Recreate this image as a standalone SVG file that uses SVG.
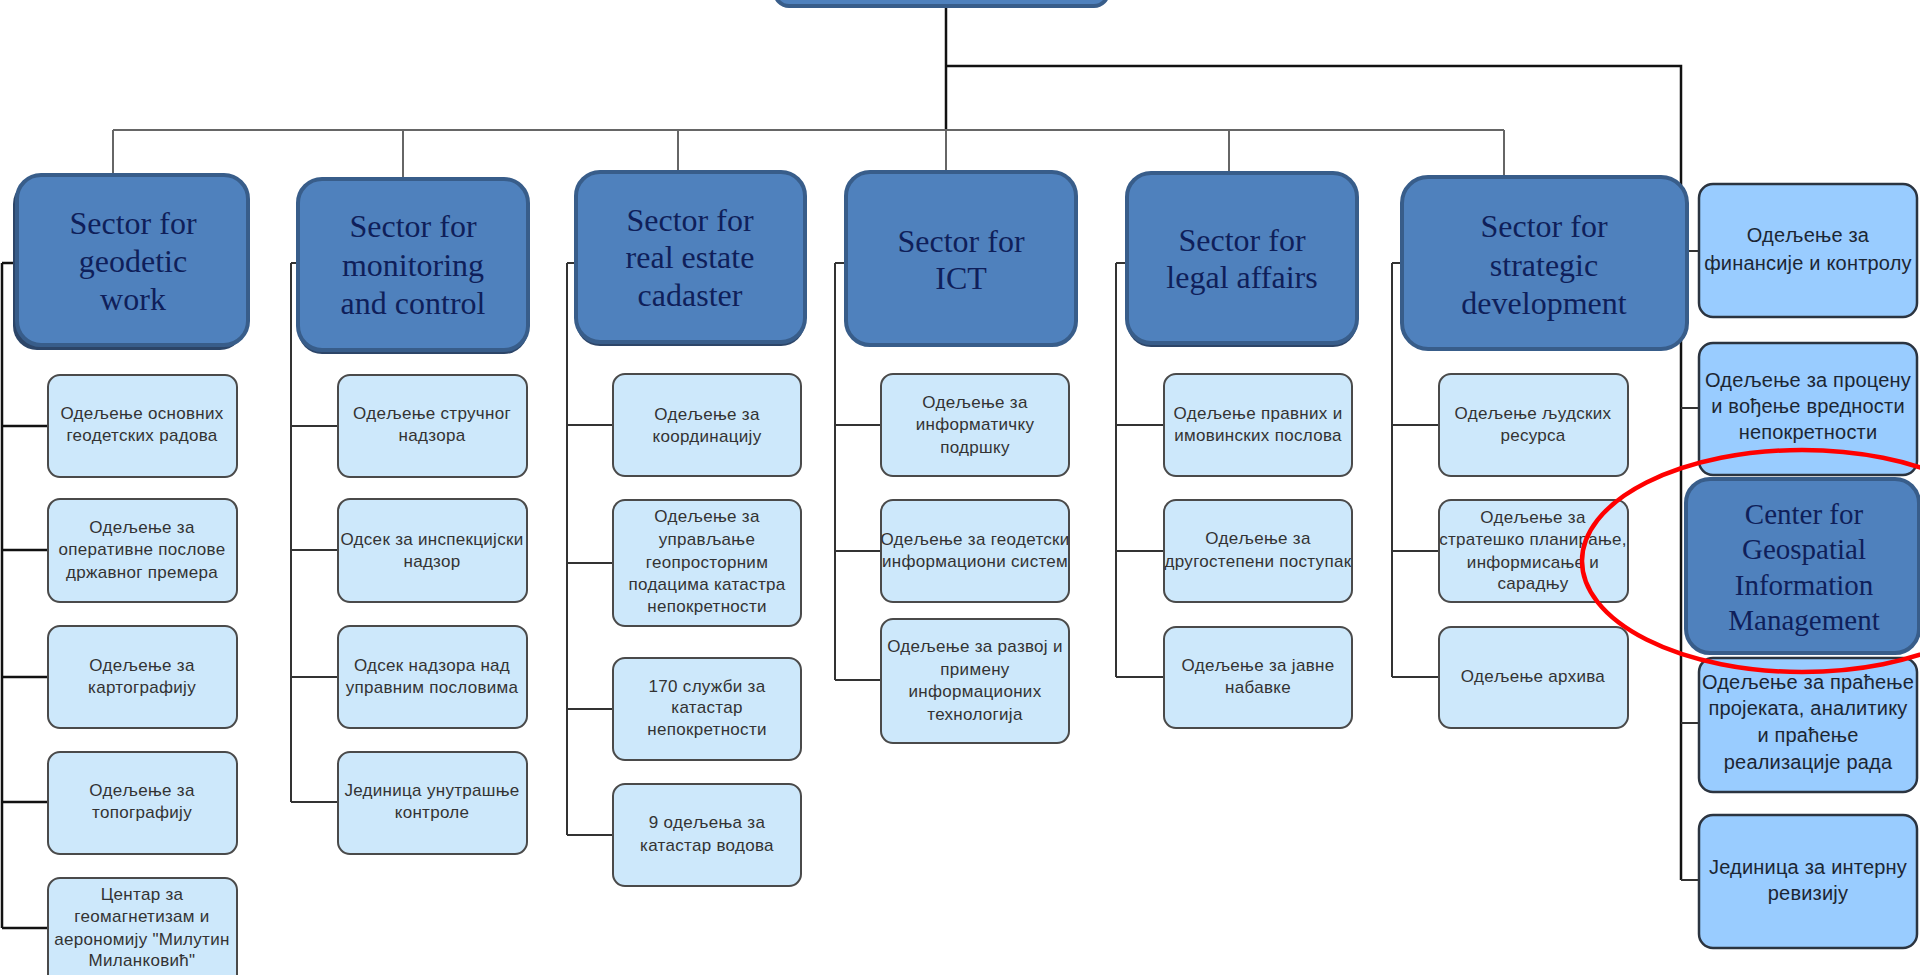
<svg xmlns="http://www.w3.org/2000/svg" width="1920" height="975" viewBox="0 0 1920 975">
<style>
.sec{fill:#4f81bd;stroke:#385d8a;stroke-width:4}
.sh{fill:#2c4568}
.st{font-family:"Liberation Serif","Times New Roman",serif;font-size:32px;fill:#0f1f5a;text-anchor:middle}
.ct{font-family:"Liberation Serif","Times New Roman",serif;font-size:29px;fill:#0f1f5a;text-anchor:middle}
.lb{fill:#cde8fb;stroke:#4a4a4a;stroke-width:2}
.lt{font-family:"Liberation Sans",Arial,sans-serif;font-size:17px;letter-spacing:0.3px;fill:#333;text-anchor:middle}
.rb{fill:#99ccff;stroke:#2b3440;stroke-width:2.5}
.rt{font-family:"Liberation Sans",Arial,sans-serif;font-size:20px;letter-spacing:0.2px;fill:#1c2633;text-anchor:middle}
.c1{stroke:#111;stroke-width:2.5;fill:none}
.c2{stroke:#666;stroke-width:2;fill:none}
.c3{stroke:#333;stroke-width:2;fill:none}
</style>
<rect width="1920" height="975" fill="#fff"/>
<g id="connectors">
<path class="c1" d="M946 6V130M946 66H1681V880"/>
<path class="c2" d="M113 130H1504M113 130V175M403 130V179M678 130V172M946 130V172M1229 130V173M1504 130V177"/>
<path class="c3" d="M1681 251H1699M1681 408H1699M1681 723H1699M1681 880H1699"/>
<path class="c1" d="M2 263H17M2 263V928M2 426H48M2 550H48M2 677H48M2 802H48M2 928H48"/>
<path class="c3" d="M291 263H298M291 263V802M291 426H338M291 550H338M291 677H338M291 802H338"/>
<path class="c3" d="M567 263H576M567 263V835M567 425H613M567 563H613M567 709H613M567 835H613"/>
<path class="c3" d="M835 263H846M835 263V680M835 425H881M835 551H881M835 680H895"/>
<path class="c3" d="M1116 263H1127M1116 263V677M1116 425H1164M1116 551H1164M1116 677H1164"/>
<path class="c3" d="M1392 263H1402M1392 263V677M1392 425H1439M1392 551H1439M1392 677H1439"/>
</g>
<g id="top"><rect class="sec" x="775" y="-40" width="333" height="46" rx="14"/></g>
<g id="s1"><rect class="sh" x="13" y="180" width="231" height="170" rx="24"/><rect class="sec" x="17" y="175" width="231" height="170" rx="24"/>
<text class="st" x="133" y="234">Sector for</text><text class="st" x="133" y="272">geodetic</text><text class="st" x="133" y="310">work</text></g>
<g id="s2"><rect class="sh" x="298" y="183" width="230" height="171" rx="24"/><rect class="sec" x="298" y="179" width="230" height="171" rx="24"/>
<text class="st" x="413" y="237">Sector for</text><text class="st" x="413" y="276">monitoring</text><text class="st" x="413" y="314">and control</text></g>
<g id="s3"><rect class="sh" x="576" y="176" width="229" height="170" rx="24"/><rect class="sec" x="576" y="172" width="229" height="170" rx="24"/>
<text class="st" x="690" y="231">Sector for</text><text class="st" x="690" y="268">real estate</text><text class="st" x="690" y="306">cadaster</text></g>
<g id="s4"><rect class="sec" x="846" y="172" width="230" height="173" rx="24"/>
<text class="st" x="961" y="252">Sector for</text><text class="st" x="961" y="289">ICT</text></g>
<g id="s5"><rect class="sh" x="1127" y="177" width="230" height="170" rx="24"/><rect class="sec" x="1127" y="173" width="230" height="170" rx="24"/>
<text class="st" x="1242" y="251">Sector for</text><text class="st" x="1242" y="288">legal affairs</text></g>
<g id="s6"><rect class="sec" x="1402" y="177" width="285" height="172" rx="26"/>
<text class="st" x="1544" y="237">Sector for</text><text class="st" x="1544" y="276">strategic</text><text class="st" x="1544" y="314">development</text></g>
<g id="s1c1"><rect class="lb" x="48" y="375" width="189" height="102" rx="12"/><text class="lt" x="142" y="419">Одељење основних</text><text class="lt" x="142" y="441">геодетских радова</text></g>
<g id="s1c2"><rect class="lb" x="48" y="499" width="189" height="103" rx="12"/><text class="lt" x="142" y="533">Одељење за</text><text class="lt" x="142" y="555">оперативне послове</text><text class="lt" x="142" y="578">државног премера</text></g>
<g id="s1c3"><rect class="lb" x="48" y="626" width="189" height="102" rx="12"/><text class="lt" x="142" y="671">Одељење за</text><text class="lt" x="142" y="693">картографију</text></g>
<g id="s1c4"><rect class="lb" x="48" y="752" width="189" height="102" rx="12"/><text class="lt" x="142" y="796">Одељење за</text><text class="lt" x="142" y="818">топографију</text></g>
<g id="s1c5"><rect class="lb" x="48" y="878" width="189" height="110" rx="12"/><text class="lt" x="142" y="900">Центар за</text><text class="lt" x="142" y="922">геомагнетизам и</text><text class="lt" x="142" y="945">аерономију "Милутин</text><text class="lt" x="142" y="966">Миланковић"</text></g>
<g id="s2c1"><rect class="lb" x="338" y="375" width="189" height="102" rx="12"/><text class="lt" x="432" y="419">Одељење стручног</text><text class="lt" x="432" y="441">надзора</text></g>
<g id="s2c2"><rect class="lb" x="338" y="499" width="189" height="103" rx="12"/><text class="lt" x="432" y="545">Одсек за инспекцијски</text><text class="lt" x="432" y="567">надзор</text></g>
<g id="s2c3"><rect class="lb" x="338" y="626" width="189" height="102" rx="12"/><text class="lt" x="432" y="671">Одсек надзора над</text><text class="lt" x="432" y="693">управним пословима</text></g>
<g id="s2c4"><rect class="lb" x="338" y="752" width="189" height="102" rx="12"/><text class="lt" x="432" y="796">Јединица унутрашње</text><text class="lt" x="432" y="818">контроле</text></g>
<g id="s3c1"><rect class="lb" x="613" y="374" width="188" height="102" rx="12"/><text class="lt" x="707" y="420">Одељење за</text><text class="lt" x="707" y="442">координацију</text></g>
<g id="s3c2"><rect class="lb" x="613" y="500" width="188" height="126" rx="12"/><text class="lt" x="707" y="522">Одељење за</text><text class="lt" x="707" y="545">управљање</text><text class="lt" x="707" y="568">геопросторним</text><text class="lt" x="707" y="590">подацима катастра</text><text class="lt" x="707" y="612">непокретности</text></g>
<g id="s3c3"><rect class="lb" x="613" y="658" width="188" height="102" rx="12"/><text class="lt" x="707" y="692">170 служби за</text><text class="lt" x="707" y="713">катастар</text><text class="lt" x="707" y="735">непокретности</text></g>
<g id="s3c4"><rect class="lb" x="613" y="784" width="188" height="102" rx="12"/><text class="lt" x="707" y="828">9 одељења за</text><text class="lt" x="707" y="851">катастар водова</text></g>
<g id="s4c1"><rect class="lb" x="881" y="374" width="188" height="102" rx="12"/><text class="lt" x="975" y="408">Одељење за</text><text class="lt" x="975" y="430">информатичку</text><text class="lt" x="975" y="453">подршку</text></g>
<g id="s4c2"><rect class="lb" x="881" y="500" width="188" height="102" rx="12"/><text class="lt" x="975" y="545">Одељење за геодетски</text><text class="lt" x="975" y="567">информациони систем</text></g>
<g id="s4c3"><rect class="lb" x="881" y="619" width="188" height="124" rx="12"/><text class="lt" x="975" y="652">Одељење за развој и</text><text class="lt" x="975" y="675">примену</text><text class="lt" x="975" y="697">информационих</text><text class="lt" x="975" y="720">технологија</text></g>
<g id="s5c1"><rect class="lb" x="1164" y="374" width="188" height="102" rx="12"/><text class="lt" x="1258" y="419">Одељење правних и</text><text class="lt" x="1258" y="441">имовинских послова</text></g>
<g id="s5c2"><rect class="lb" x="1164" y="500" width="188" height="102" rx="12"/><text class="lt" x="1258" y="544">Одељење за</text><text class="lt" x="1258" y="567">другостепени поступак</text></g>
<g id="s5c3"><rect class="lb" x="1164" y="627" width="188" height="101" rx="12"/><text class="lt" x="1258" y="671">Одељење за јавне</text><text class="lt" x="1258" y="693">набавке</text></g>
<g id="s6c1"><rect class="lb" x="1439" y="374" width="189" height="102" rx="12"/><text class="lt" x="1533" y="419">Одељење људских</text><text class="lt" x="1533" y="441">ресурса</text></g>
<g id="s6c2"><rect class="lb" x="1439" y="500" width="189" height="102" rx="12"/><text class="lt" x="1533" y="523">Одељење за</text><text class="lt" x="1533" y="545">стратешко планирање,</text><text class="lt" x="1533" y="568">информисање и</text><text class="lt" x="1533" y="589">сарадњу</text></g>
<g id="s6c3"><rect class="lb" x="1439" y="627" width="189" height="101" rx="12"/><text class="lt" x="1533" y="682">Одељење архива</text></g>
<g id="r1"><rect class="rb" x="1699" y="184" width="218" height="133" rx="14"/><text class="rt" x="1808" y="242">Одељење за</text><text class="rt" x="1808" y="270">финансије и контролу</text></g>
<g id="r2"><rect class="rb" x="1699" y="343" width="218" height="132" rx="14"/><text class="rt" x="1808" y="387">Одељење за процену</text><text class="rt" x="1808" y="413">и вођење вредности</text><text class="rt" x="1808" y="439">непокретности</text></g>
<g id="r4"><rect class="rb" x="1699" y="658" width="218" height="134" rx="14"/><text class="rt" x="1808" y="689">Одељење за праћење</text><text class="rt" x="1808" y="715">пројеката, аналитику</text><text class="rt" x="1808" y="742">и праћење</text><text class="rt" x="1808" y="769">реализације рада</text></g>
<g id="r5"><rect class="rb" x="1699" y="815" width="218" height="133" rx="14"/><text class="rt" x="1808" y="874">Јединица за интерну</text><text class="rt" x="1808" y="900">ревизију</text></g>
<g id="center"><rect class="sec" x="1686" y="479" width="233" height="174" rx="24"/>
<text class="ct" x="1804" y="524">Center for</text><text class="ct" x="1804" y="559">Geospatial</text><text class="ct" x="1804" y="595">Information</text><text class="ct" x="1804" y="630">Management</text></g>
<ellipse cx="1802" cy="561" rx="220" ry="111" fill="none" stroke="#f00" stroke-width="4.5"/>
</svg>
